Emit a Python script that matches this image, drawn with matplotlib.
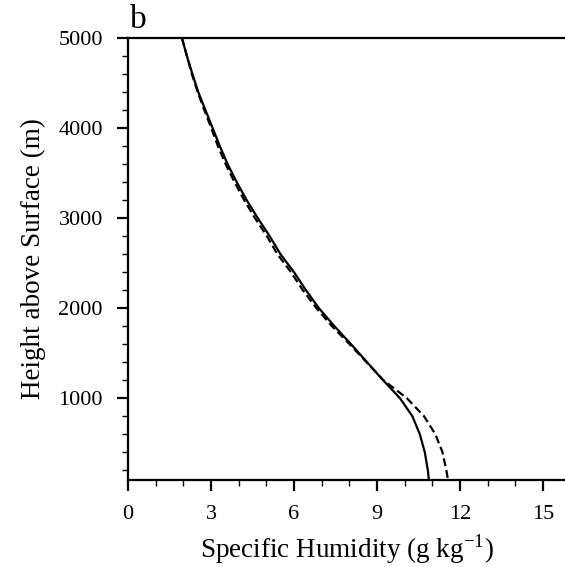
import matplotlib
matplotlib.use("Agg")
import matplotlib.pyplot as plt
from matplotlib.ticker import MultipleLocator, FixedLocator

height = [5000, 4800, 4600, 4400, 4200, 4000, 3800, 3600, 3400, 3200, 3000,
          2800, 2600, 2400, 2200, 2000, 1800, 1600, 1400, 1200, 1000,
          800, 600, 400, 200, 90]

# solid profile, specific humidity [g/kg]
q_solid = [1.95, 2.13, 2.33, 2.54, 2.80, 3.06, 3.32, 3.60, 3.93, 4.29, 4.69,
           5.12, 5.51, 6.00, 6.43, 6.90, 7.46, 8.06, 8.64, 9.22, 9.83,
           10.28, 10.55, 10.73, 10.84, 10.88]

# dashed profile
q_dash = [1.95, 2.13, 2.31, 2.52, 2.76, 3.01, 3.25, 3.53, 3.85, 4.20, 4.59,
          5.02, 5.40, 5.89, 6.32, 6.81, 7.37, 8.01, 8.62, 9.23, 10.08,
          10.70, 11.11, 11.37, 11.51, 11.57]

x_ticks = [0, 3, 6, 9, 12, 15]
y_ticks = [1000, 2000, 3000, 4000, 5000]

plt.rcParams['font.family'] = ['Liberation Serif', 'DejaVu Serif']

fig = plt.figure(figsize=(5.65, 5.67), dpi=100)
ax = fig.add_axes([0.2265, 0.1534, 0.7735, 0.7796])

ax.plot(q_solid, height, color='black', lw=1.6, ls='-')
ax.plot(q_dash, height, color='black', lw=1.6, ls=(0, (3.6, 1.8)))

ax.set_xlim(0, 15.8)
ax.set_ylim(90, 5000)

ax.xaxis.set_major_locator(FixedLocator(x_ticks))
ax.xaxis.set_minor_locator(MultipleLocator(1))
ax.yaxis.set_major_locator(FixedLocator(y_ticks))
ax.yaxis.set_minor_locator(FixedLocator(range(200, 5000, 200)))

ax.spines['right'].set_visible(False)
for s in ['left', 'bottom', 'top']:
    ax.spines[s].set_linewidth(1.6)

ax.tick_params(which='major', direction='out', length=8, width=1.6,
               labelsize=16, pad=10)
ax.tick_params(which='minor', direction='out', length=4.5, width=1.0)
ax.tick_params(top=False, right=False)

ax.set_xlabel('Specific Humidity (g kg$^{\\mathregular{-1}}$)', fontsize=19.5, labelpad=6)
ax.set_ylabel('Height above Surface (m)', fontsize=19.5, labelpad=9)

ax.text(0.005, 1.022, 'b', transform=ax.transAxes, fontsize=24,
        ha='left', va='baseline')

fig.savefig('out.png', dpi=100)
